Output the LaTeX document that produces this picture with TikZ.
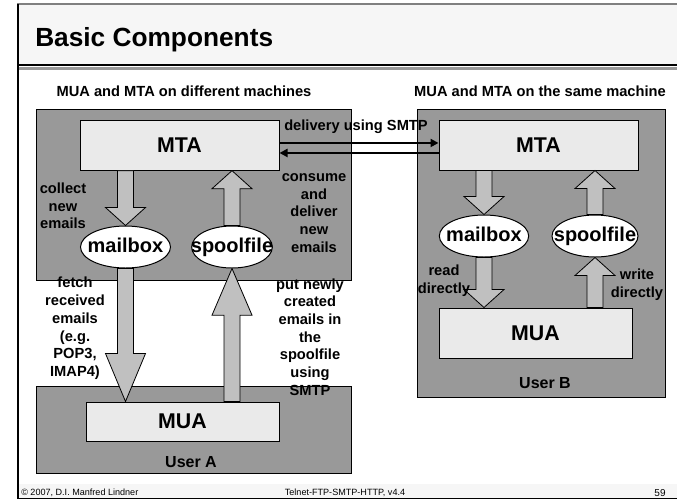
\documentclass[tikz,border=0pt]{standalone}
\usepackage{fontspec}
\setmainfont{Liberation Sans}
\usetikzlibrary{arrows.meta,calc,shapes.geometric}

\definecolor{hostgray}{RGB}{153,153,153}
\definecolor{boxgray}{RGB}{234,234,234}
\definecolor{arrowgray}{RGB}{192,192,192}
\definecolor{bargray}{RGB}{246,246,246}

\tikzset{
  machine/.style={draw=black,fill=hostgray,line width=0.75pt},
  agent/.style={draw=black,fill=boxgray,line width=0.75pt,inner sep=0pt,
    font=\fontsize{16}{19}\selectfont\bfseries},
  store/.style={ellipse,draw=black,fill=white,line width=0.75pt,inner sep=0pt,
    minimum width=66pt,minimum height=31.5pt,
    label={[inner sep=0pt,text height=11pt,text depth=2.5pt,
      font=\fontsize{15}{18}\selectfont\bfseries]center:#1}},
  fat/.style={draw=black,fill=arrowgray,line width=0.6pt},
  remark/.style={align=center,inner sep=0pt,font=\fontsize{11}{13.3}\selectfont\bfseries},
  smtp/.style={line width=1.5pt,-{Triangle[length=6pt,width=6pt]}},
  foot/.style={inner sep=0pt,font=\fontsize{6.8}{8}\selectfont}
}

% block arrow: tail, tip, head length
\newcommand{\fatarrow}[3]{%
  \coordinate (fa-t) at #1; \coordinate (fa-p) at #2;
  \coordinate (fa-h) at ($(fa-p)!#3!(fa-t)$);
  \draw[fat] ($(fa-t)!6pt!90:(fa-p)$) -- ($(fa-h)!6pt!90:(fa-p)$)
    -- ($(fa-h)!15pt!90:(fa-p)$) -- (fa-p) -- ($(fa-h)!15pt!-90:(fa-p)$)
    -- ($(fa-h)!6pt!-90:(fa-p)$) -- ($(fa-t)!6pt!-90:(fa-p)$) -- cycle;}

\begin{document}
\begin{tikzpicture}[x=0.75pt,y=-0.75pt]
    \useasboundingbox (0,0) rectangle (677,501);

    % draw slide frame
    \fill[bargray] (17,4) rectangle (677,65);
    \draw[gray,line width=1pt] (17,4) -- (677,4);
    \draw[line width=1.2pt] (17,65) -- (677,65);
    \draw[hostgray,line width=2pt] (17,68.5) -- (677,68.5);
    \fill[bargray] (17,484) rectangle (677,498);
    \draw[line width=1.2pt] (17,498.5) -- (677,498.5);
    \draw[line width=1.5pt] (17.5,4) -- (17.5,499);
    \node[anchor=base west,inner sep=0pt,font=\fontsize{19.7}{24}\selectfont\bfseries] (title) at (35,46) {Basic Components};

    % draw headings
    \node[font=\fontsize{11}{13}\selectfont\bfseries] (headA) at (184,91) {MUA and MTA on different machines};
    \node[font=\fontsize{11}{13}\selectfont\bfseries] (headB) at (540,91) {MUA and MTA on the same machine};

    % draw machines
    \draw[machine] (36,109) rectangle (351,280);
    \draw[machine] (36,386) rectangle (351,473);
    \draw[machine] (417,109) rectangle (665,397);
    \node[font=\fontsize{12}{14}\selectfont\bfseries] (userA) at (191,462) {User A};
    \node[font=\fontsize{12}{14}\selectfont\bfseries] (userB) at (545,383) {User B};

    % draw nodes
    \node[agent,minimum width=149.25pt,minimum height=37pt] (mtaA) at (179.5,145.5) {MTA};
    \node[agent,minimum width=144.75pt,minimum height=29.25pt] (muaA) at (182.5,421.5) {MUA};
    \node[agent,minimum width=149.25pt,minimum height=37.5pt] (mtaB) at (538.5,145) {MTA};
    \node[agent,minimum width=144.75pt,minimum height=37.5pt] (muaB) at (535.5,333) {MUA};
    \node[store=mailbox,minimum width=67.5pt] (mboxA) at (125.5,247) {};
    \node[store=spoolfile,minimum width=60.5pt] (spoolA) at (232,247) {};
    \node[store=mailbox,minimum width=67pt] (mboxB) at (484,236) {};
    \node[store=spoolfile,minimum width=64.5pt] (spoolB) at (595,236) {};

    % draw block arrows
    \fatarrow{(mboxA |- mtaA.south)}{(mboxA.north)}{13.5pt}
    \fatarrow{(spoolA.north)}{(spoolA |- mtaA.south)}{13.5pt}
    \fatarrow{(mboxA.south)}{(mboxA |- muaA.north)}{36pt}
    \fatarrow{(spoolA |- muaA.north)}{(spoolA.south)}{35pt}
    \fatarrow{(mboxB |- mtaB.south)}{(mboxB.north)}{13.5pt}
    \fatarrow{(spoolB.north)}{(spoolB |- mtaB.south)}{13.5pt}
    \fatarrow{(mboxB.south)}{(mboxB |- muaB.north)}{13.5pt}
    \fatarrow{(spoolB |- muaB.north)}{(spoolB.south)}{13.5pt}

    % draw smtp lines
    \coordinate (sendA) at ([yshift=1.9pt]mtaA.east);
    \coordinate (recvA) at ([yshift=-5.6pt]mtaA.east);
    \draw[smtp] (sendA) -- (sendA -| mtaB.west);
    \draw[smtp] (recvA -| mtaB.west) -- (recvA);
    \node[remark] (deliv) at (356,127) {delivery using SMTP};

    % draw remarks
    \node[remark] (collect) at (63,206) {collect\\new\\emails};
    \node[remark] (consume) at (314,213) {consume\\and\\deliver\\new\\emails};
    \node[remark] (fetch) at (75,328.5) {fetch\\received\\emails\\(e.g.\\POP3,\\IMAP4)};
    \node[remark] (put) at (310,337) {put newly\\created\\emails in\\the\\spoolfile\\using\\SMTP};
    \node[remark] (read) at (444,280.5) {read\\directly};
    \node[remark] (write) at (637,285) {write\\directly};

    % draw footer
    \node[foot,anchor=west] (copy) at (21,493) {\textcopyright{} 2007, D.I. Manfred Lindner};
    \node[foot] (course) at (345,493) {Telnet-FTP-SMTP-HTTP, v4.4};
    \node[foot,font=\fontsize{7.5}{9}\selectfont] (page) at (660,493) {59};
  \end{tikzpicture}
\end{document}
